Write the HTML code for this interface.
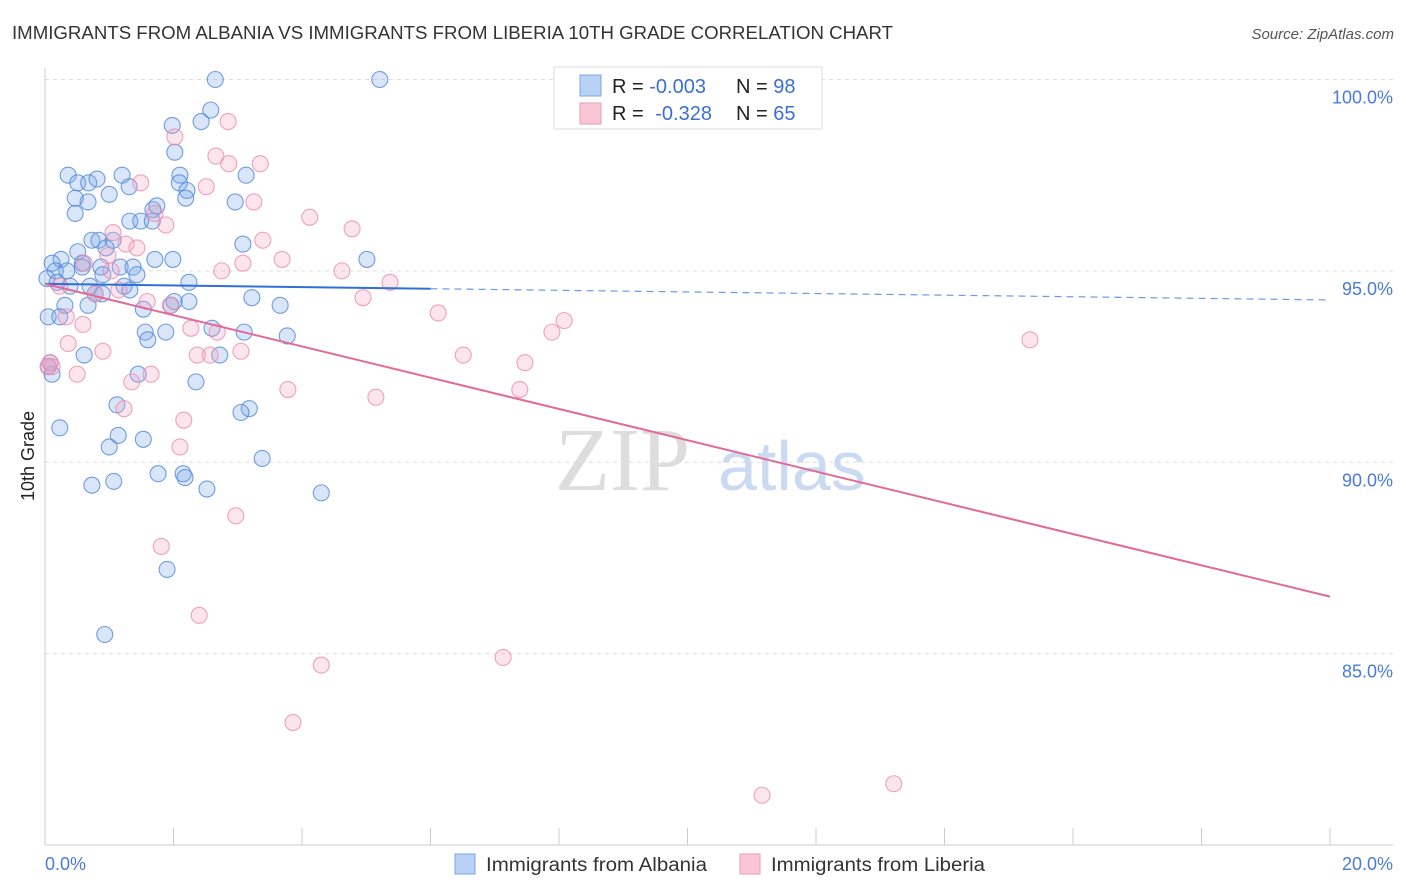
<!DOCTYPE html>
<html><head><meta charset="utf-8"><style>
body{margin:0;background:#fff;font-family:"Liberation Sans",sans-serif;}
svg{display:block}
</style></head><body>
<svg id="chart" width="1406" height="892">
<text x="12" y="39" font-size="18" fill="#333" textLength="881" lengthAdjust="spacingAndGlyphs">IMMIGRANTS FROM ALBANIA VS IMMIGRANTS FROM LIBERIA 10TH GRADE CORRELATION CHART</text>
<text x="1394" y="39" font-size="15" fill="#555" font-style="italic" text-anchor="end">Source: ZipAtlas.com</text>
<text x="34" y="456" font-size="18" fill="#222" transform="rotate(-90 34 456)" text-anchor="middle">10th Grade</text>
<g><text x="555" y="490" font-size="90" fill="#ddd" font-family="Liberation Serif,serif">ZIP</text><text x="718" y="490" font-size="70" fill="#c9daf2">atlas</text></g>
<g id="grid"></g><g id="pts"></g><g id="lines"></g>
<g>
<rect x="554" y="67" width="268" height="62" fill="#fff" stroke="#ddd"/>
<rect x="580" y="75" width="21" height="21" fill="#b8d2f5" stroke="#7aa6e6"/>
<rect x="580" y="103" width="21" height="21" fill="#f9c6d6" stroke="#ee9ab6"/>
<text x="612" y="93" font-size="20" fill="#222">R = <tspan fill="#3b6fd4">-0.003</tspan></text>
<text x="736" y="93" font-size="20" fill="#222">N = <tspan fill="#3b6fd4">98</tspan></text>
<text x="612" y="120" font-size="20" fill="#222">R = <tspan fill="#3b6fd4" dx="6">-0.328</tspan></text>
<text x="736" y="120" font-size="20" fill="#222">N = <tspan fill="#3b6fd4">65</tspan></text>
</g>
<g>
<rect x="455" y="854" width="20" height="20" fill="#b8d2f5" stroke="#7aa6e6"/>
<text x="486" y="871" font-size="19" fill="#333" textLength="221" lengthAdjust="spacingAndGlyphs">Immigrants from Albania</text>
<rect x="740" y="854" width="20" height="20" fill="#f9c6d6" stroke="#ee9ab6"/>
<text x="771" y="871" font-size="19" fill="#333" textLength="214" lengthAdjust="spacingAndGlyphs">Immigrants from Liberia</text>
</g>
</svg>
<script>
const blueX=[2.65,5.21,2.58,1.98,2.43,2.02,0.36,1.20,0.51,0.68,0.81,1.31,2.10,2.09,1.00,2.21,2.19,0.67,0.47,3.13,2.96,0.47,1.68,1.74,1.32,1.49,1.67,0.73,0.84,1.06,0.95,0.51,0.25,0.11,0.16,0.34,0.58,0.58,0.87,0.90,1.17,1.37,1.43,1.71,1.99,5.01,0.03,0.19,0.39,0.70,0.89,0.78,1.23,1.32,2.24,3.22,3.66,1.53,1.96,0.31,0.67,0.05,0.23,1.56,1.60,1.88,2.60,3.10,3.77,0.61,2.72,0.05,0.11,0.08,1.45,2.35,1.12,3.18,3.05,0.23,1.14,1.53,1.00,3.38,1.76,2.15,2.18,0.73,1.07,2.52,4.30,1.90,0.93,3.08,2.01,2.24];
const blueY=[100.0,100.0,99.2,98.8,98.9,98.1,97.5,97.5,97.3,97.3,97.4,97.2,97.5,97.3,97.0,97.1,96.9,96.8,96.9,97.5,96.8,96.5,96.6,96.7,96.3,96.3,96.3,95.8,95.8,95.8,95.6,95.5,95.3,95.2,95.0,95.0,95.2,95.1,95.1,94.9,95.1,95.1,94.9,95.3,95.3,95.3,94.8,94.7,94.6,94.6,94.4,94.4,94.6,94.5,94.7,94.3,94.1,94.0,94.1,94.1,94.1,93.8,93.8,93.4,93.2,93.4,93.5,93.4,93.3,92.8,92.8,92.5,92.3,92.6,92.3,92.1,91.5,91.4,91.3,90.9,90.7,90.6,90.4,90.1,89.7,89.7,89.6,89.4,89.5,89.3,89.2,87.2,85.5,95.7,94.2,94.2];
const pinkX=[9.39,2.85,2.02,2.66,2.86,3.35,1.49,2.51,3.25,1.71,4.12,4.78,1.88,1.06,3.39,1.26,1.43,0.98,3.69,3.08,2.75,4.62,5.37,1.03,0.61,0.23,0.78,1.15,1.59,1.95,4.95,6.12,8.08,7.89,0.33,0.59,2.27,2.68,3.05,2.57,2.37,0.90,0.36,0.08,0.11,0.50,1.65,1.35,6.51,7.47,3.78,5.15,7.39,1.23,2.16,2.10,2.97,1.81,2.40,4.30,7.13,3.86,11.16,13.21,15.33,0.05];
const pinkY=[100.0,98.9,98.5,98.0,97.8,97.8,97.3,97.2,96.8,96.5,96.4,96.1,96.2,96.0,95.8,95.7,95.6,95.4,95.3,95.2,95.0,95.0,94.7,95.0,95.2,94.6,94.4,94.5,94.2,94.1,94.3,93.9,93.7,93.4,93.8,93.6,93.5,93.4,92.9,92.8,92.8,92.9,93.1,92.6,92.5,92.3,92.3,92.1,92.8,92.6,91.9,91.7,91.9,91.4,91.1,90.4,88.6,87.8,86.0,84.7,84.9,83.2,81.3,81.6,93.2,92.5];
const blueTrend=[94.66,94.24];
const pinkTrend=[94.66,86.49];
const yTicks=[100,95,90,85];
const yTickLabels=["100.0%","95.0%","90.0%","85.0%"];
const X0=45,X1=1330,Y0=845,Y1=79.5;
const sx=v=>X0+(v/20)*(X1-X0);
const sy=v=>Y0-((v-80)/20)*(Y0-Y1);
const NS="http://www.w3.org/2000/svg";
function mk(t,a,p){const e=document.createElementNS(NS,t);for(const k in a)e.setAttribute(k,a[k]);p.appendChild(e);return e;}
const grid=document.getElementById('grid');
yTicks.forEach((t,i)=>{
 const l=mk('line',{x1:X0,x2:1393,y1:sy(t),y2:sy(t),stroke:'#ddd','stroke-dasharray':'4,4'},grid);
 
 
 const tx=mk('text',{x:1393,y:sy(t)+24,'font-size':18,fill:'#4a7bd8','text-anchor':'end'},grid);
 tx.textContent=yTickLabels[i];
 
 
});
const ax=mk('line',{x1:X0,x2:X0,y1:68,y2:Y0,stroke:'#ccc'},grid);


const bx=mk('line',{x1:X0,x2:1393,y1:Y0,y2:Y0,stroke:'#ccc'},grid);


for(let i=0;i<=10;i++){const t=mk('line',{x1:sx(i*2),x2:sx(i*2),y1:Y0,y2:Y0-17,stroke:'#ccc'},grid);
 
 }
const xl=mk('text',{x:45,y:870,'font-size':18,fill:'#4a7bd8'},grid);xl.textContent='0.0%';


const xr=mk('text',{x:1393,y:870,'font-size':18,fill:'#4a7bd8','text-anchor':'end'},grid);xr.textContent='20.0%';


const pts=document.getElementById('pts');
blueX.forEach((x,i)=>{const c=mk('circle',{cx:sx(x),cy:sy(blueY[i]),r:8,fill:'rgba(120,165,235,0.28)',stroke:'rgba(80,135,215,0.8)','stroke-width':1.1},pts);
 
 });
pinkX.forEach((x,i)=>{const c=mk('circle',{cx:sx(x),cy:sy(pinkY[i]),r:8,fill:'rgba(245,160,190,0.28)',stroke:'rgba(235,140,175,0.8)','stroke-width':1.1},pts);
 
 });
const lines=document.getElementById('lines');
const bt=v=>blueTrend[0]+(blueTrend[1]-blueTrend[0])*v/20;
const b1=mk('line',{x1:sx(0),y1:sy(bt(0)),x2:sx(6),y2:sy(bt(6)),stroke:'#2f6fd6','stroke-width':2},lines);


const b2=mk('line',{x1:sx(6),y1:sy(bt(6)),x2:sx(20),y2:sy(bt(20)),stroke:'#6a9be0','stroke-width':1.2,'stroke-dasharray':'7,5'},lines);


const p1=mk('line',{x1:sx(0),y1:sy(pinkTrend[0]),x2:sx(20),y2:sy(pinkTrend[1]),stroke:'#e26a98','stroke-width':2},lines);


</script>
</body></html>
